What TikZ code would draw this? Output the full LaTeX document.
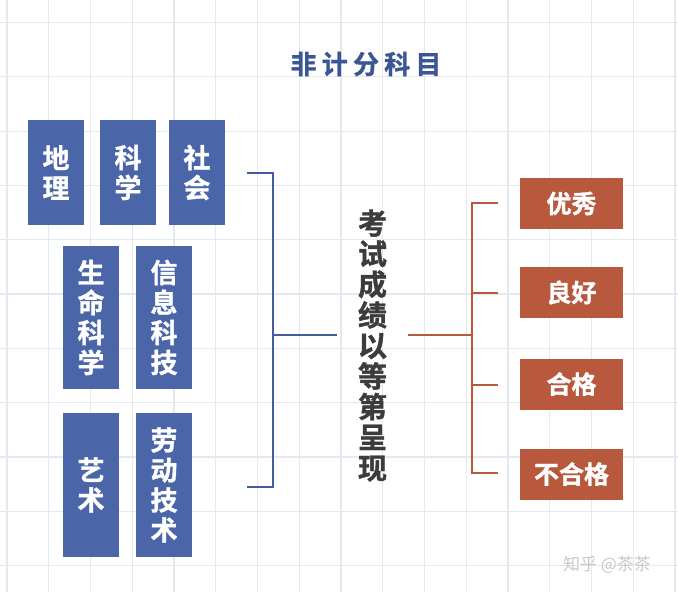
\documentclass[tikz,border=0pt]{standalone}
\usepackage{fontspec}
\setmainfont{Noto Sans CJK SC}[BoldFont={Noto Sans CJK SC Bold}]
\definecolor{gridc}{RGB}{228,233,240}
\definecolor{boxblue}{RGB}{74,102,168}
\definecolor{lineblue}{RGB}{66,92,158}
\definecolor{titleblue}{RGB}{58,86,148}
\definecolor{boxorange}{RGB}{184,88,60}
\definecolor{textgray}{RGB}{60,60,60}
\definecolor{wmgray}{RGB}{200,200,200}
\newcommand{\heavy}{\bfseries\addfontfeature{FakeBold=1.2}}
\tikzset{
  bluebox/.style={rectangle, fill=boxblue, text=white, font=\heavy\fontsize{27}{30}\selectfont, align=center, inner sep=0pt, minimum width=56pt},
  orangebox/.style={rectangle, fill=boxorange, text=white, font=\heavy\fontsize{25}{28}\selectfont, align=center, inner sep=0pt, minimum width=103pt, minimum height=51pt},
  bluelink/.style={draw=lineblue, line width=2.4pt},
  orangelink/.style={draw=boxorange, line width=2.4pt},
}
\begin{document}
\begin{tikzpicture}[x=1pt,y=-1pt]
\useasboundingbox (0,0) rectangle (678,592);
\fill[white] (0,0) rectangle (678,592);
% grid
\foreach \k in {0,...,16} {\draw[gridc, line width=1.2pt] ({7+41.75*\k},0) -- ({7+41.75*\k},592);}
\foreach \k in {0,...,10} {\draw[gridc, line width=1.2pt] (0,{22.5+54.3*\k}) -- (678,{22.5+54.3*\k});}
% title
\node[text=titleblue, font=\heavy\fontsize{26}{28}\selectfont\addfontfeature{LetterSpace=20}] (title) at (366,64) {非计分科目};
% blue boxes
\node[bluebox, minimum height=105pt] (dili) at (56,172.5) {地\\理};
\node[bluebox, minimum height=105pt] (kexue) at (128,172.5) {科\\学};
\node[bluebox, minimum height=105pt] (shehui) at (197,172.5) {社\\会};
\node[bluebox, minimum height=143pt] (shengming) at (91,317.5) {生\\命\\科\\学};
\node[bluebox, minimum height=143pt] (xinxi) at (164,317.5) {信\\息\\科\\技};
\node[bluebox, minimum height=144pt] (yishu) at (91,485) {艺\\术};
\node[bluebox, minimum height=144pt] (laodong) at (164,485) {劳\\动\\技\\术};
% central vertical text
\node[text=textgray, font=\heavy\fontsize{29}{30.6}\selectfont, align=center, inner sep=0pt] (exam) at (372.5,345.5) {考\\试\\成\\绩\\以\\等\\第\\呈\\现};
% orange boxes
\node[orangebox] (youxiu) at (571.5,203.5) {优秀};
\node[orangebox] (lianghao) at (571.5,292.5) {良好};
\node[orangebox] (hege) at (571.5,384) {合格};
\node[orangebox] (buhege) at (571.5,474) {不合格};
% blue bracket
\coordinate (bt) at (247,173);
\coordinate (bb) at (247,487);
\coordinate (bm) at (337,335);
\draw[bluelink] (bt) -- (273,173) -- (273,487) -- (bb);
\draw[bluelink] (273,335) -- (bm);
% orange bracket
\coordinate (om) at (408,335);
\coordinate (o1) at (498,203);
\coordinate (o2) at (498,293);
\coordinate (o3) at (498,385);
\coordinate (o4) at (498,473);
\draw[orangelink] (o1) -- (472,203) -- (472,473) -- (o4);
\draw[orangelink] (om) -- (472,335);
\draw[orangelink] (472,293) -- (o2);
\draw[orangelink] (472,385) -- (o3);
% watermark
\node[text=wmgray, font=\fontsize{17}{19}\selectfont] (wm) at (607,565) {知乎 @茶茶};
\end{tikzpicture}
\end{document}
